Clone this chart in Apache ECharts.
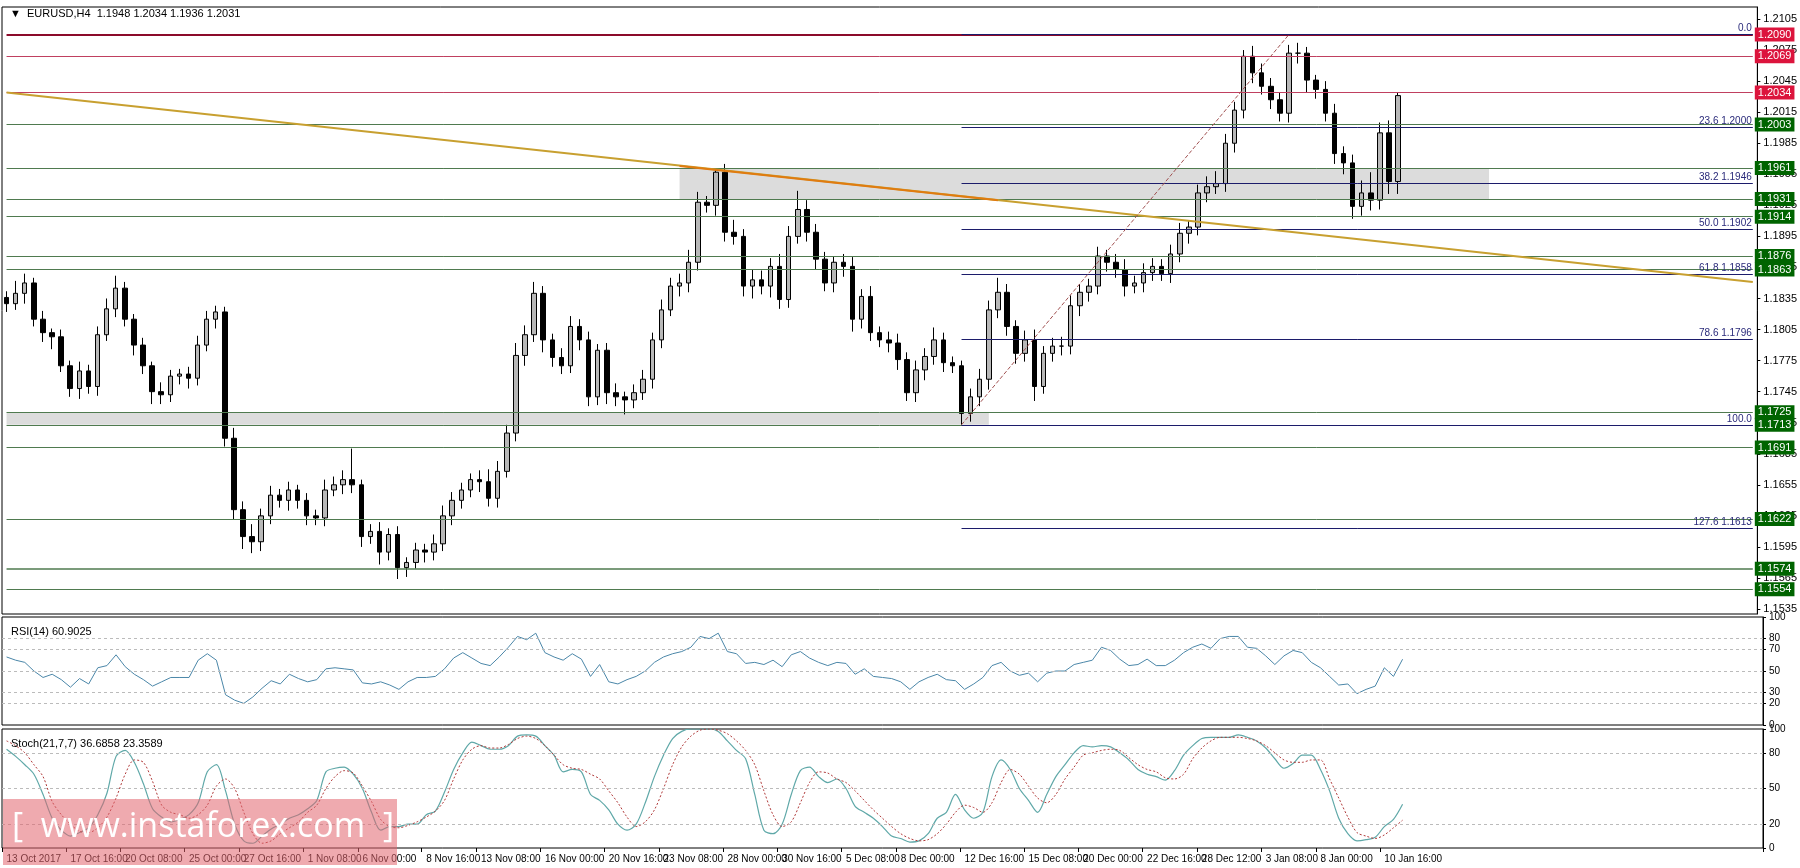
<!DOCTYPE html>
<html>
<head>
<meta charset="utf-8">
<script src="https://cdn.jsdelivr.net/npm/echarts@6/dist/echarts.min.js"></script>
<style>
  html, body { margin: 0; padding: 0; background: #fff; }
  #main { width: 1800px; height: 868px; }
</style>
</head>
<body>
<div id="main"></div>
<script>
// EURUSD H4 closes
const closes = [
  1.1830,1.1840,1.1850,1.1815,1.1802,1.1798,1.1770,1.1748,1.1765,1.1750,
  1.1800,1.1825,1.1845,1.1815,1.1790,1.1770,1.1745,1.1742,1.1760,1.1762,
  1.1758,1.1790,1.1815,1.1822,1.1700,1.1631,1.1605,1.1600,1.1625,1.1645,
  1.1640,1.1650,1.1640,1.1625,1.1623,1.1650,1.1655,1.1660,1.1655,1.1605,
  1.1610,1.1590,1.1607,1.1575,1.1580,1.1592,1.1590,1.1598,1.1625,1.1640,
  1.1650,1.1660,1.1658,1.1642,1.1668,1.1705,1.1780,1.1800,1.1840,1.1795,
  1.1778,1.1770,1.1808,1.1795,1.1740,1.1785,1.1744,1.1740,1.1737,1.1744,
  1.1757,1.1795,1.1824,1.1847,1.1850,1.1870,1.1928,1.1925,1.1957,1.1899,
  1.1895,1.1847,1.1853,1.1847,1.1866,1.1834,1.1895,1.1921,1.1899,1.1873,
  1.1850,1.1870,1.1866,1.1815,1.1837,1.1802,1.1795,1.1792,1.1776,1.1744,
  1.1766,1.1779,1.1795,1.1773,1.1770,1.1724,1.1740,1.1757,1.1824,1.1841,
  1.1808,1.1782,1.1795,1.1750,1.1782,1.1789,1.1789,1.1828,1.1841,1.1847,
  1.1876,1.1870,1.1863,1.1847,1.1850,1.1860,1.1866,1.1859,1.1878,1.1898,
  1.1904,1.1937,1.1943,1.1946,1.1985,1.2017,1.2069,1.2053,1.2040,1.2027,
  1.2014,1.2072,1.2072,1.2046,1.2037,1.2014,1.1975,1.1966,1.1924,1.1937,
  1.1930,1.1995,1.1948,1.2031
];
const firstOpen = 1.1836;
// upper / lower wick lengths in pips
const upWick = [
  6,12,9,5,8,4,7,5,9,6, 8,10,12,6,5,7,4,9,6,5, 7,9,8,6,5,10,8,12,7,9,
  6,8,5,7,6,10,8,9,30,5, 7,9,6,8,5,7,6,9,10,8, 7,6,9,12,10,8,12,9,11,7,
  6,9,10,7,8,6,7,9,5,8, 9,7,10,8,9,12,10,6,4,8, 12,7,10,9,8,12,10,18,9,8,
  7,6,8,9,7,10,6,8,9,7, 9,8,12,7,6,5,8,10,9,14, 8,6,9,10,7,8,9,10,8,7,
  9,6,8,10,7,9,8,7,9,10, 6,8,10,12,9,8,6,10,9,8, 7,8,10,6,5,8,9,7,8,12,
  20,10,12,3
];
const dnWick = [
  8,6,10,7,9,12,6,8,10,7, 9,6,8,7,10,8,12,9,7,8, 10,7,6,9,8,10,12,11,9,8,
  7,10,8,9,7,8,6,9,8,10, 7,12,8,11,9,6,10,8,7,9, 8,7,10,8,9,6,8,10,7,12,
  9,8,7,10,9,8,11,9,14,8, 7,9,8,6,10,9,8,7,10,9, 8,10,12,8,11,9,8,7,9,10,
  8,9,10,12,9,8,7,9,10,8, 9,10,8,9,7,11,8,9,10,8, 9,10,8,14,7,8,9,8,10,9,
  8,9,8,10,7,9,8,7,9,8, 10,8,9,7,8,9,8,10,8,9, 8,9,10,12,9,8,10,11,12,9,
  10,9,12,12
];
const rsi = [
  63,60,58,50,44,47,42,35,43,38, 53,55,65,54,47,42,36,40,44,44,
  44,60,66,60,28,23,20,26,34,41, 38,47,43,40,42,52,53,52,51,39,
  38,40,37,33,40,44,44,45,52,62, 67,62,57,55,63,72,82,79,85,67,
  63,60,66,61,45,56,40,38,42,45, 50,58,63,66,68,72,82,80,85,68,
  66,57,58,56,60,54,65,68,62,58, 55,58,57,47,52,45,44,43,40,33,
  40,44,47,42,41,33,38,44,55,58, 50,46,48,40,48,50,50,56,58,60,
  72,69,61,55,56,61,55,55,60,67, 72,75,71,80,82,82,72,71,64,56,
  64,69,67,58,53,45,37,38,29,33, 36,53,45,60.9025
];
const stochK = [
  83,77,70,62,45,25,15,10,13,17, 28,46,77,82,72,54,33,26,22,24,
  28,38,64,70,48,20,6,4,10,16, 20,25,28,33,40,64,67,68,62,50,
  30,15,18,18,20,20,28,31,47,66, 80,89,86,83,83,86,94,95,94,86,
  78,64,66,64,45,40,32,20,15,20, 38,60,78,92,98,100,100,100,98,90,
  82,75,45,15,12,20,45,65,68,60, 55,58,50,35,30,25,18,10,8,5,
  6,12,25,30,45,32,25,30,60,74, 66,50,40,30,45,60,70,80,86,85,
  86,85,80,74,66,62,60,57,65,78, 86,92,93,93,93,95,93,90,84,75,
  67,71,78,78,66,48,25,12,6,7, 9,18,24,36.6858
];
const stochD = [
  90,86,80,70,60,39,28,20,14,13, 17,26,42,62,74,72,56,36,30,28,
  25,28,36,52,58,50,30,12,4,6, 12,17,22,30,36,50,60,65,63,52,
  39,24,18,17,19,22,26,31,40,58, 74,83,86,84,84,87,92,94,92,86,
  78,70,67,66,62,58,48,38,26,18, 22,32,50,70,85,94,99,100,99,96,
  90,82,70,48,28,18,22,38,55,64, 63,58,55,48,40,32,25,18,12,8,
  6,7,12,20,30,36,34,30,38,55, 66,62,52,42,38,45,58,68,78,80,
  82,83,82,76,70,66,64,59,58,62, 75,84,90,93,93,93,92,90,86,80,
  74,72,72,74,74,58,42,26,13,10, 8,11,17,23.3589
];
const slotCount = 193;
const dateLabels = ['13 Oct 2017','17 Oct 16:00','20 Oct 08:00','25 Oct 00:00','27 Oct 16:00','1 Nov 08:00',
  '6 Nov 00:00','8 Nov 16:00','13 Nov 08:00','16 Nov 00:00','20 Nov 16:00','23 Nov 08:00','28 Nov 00:00',
  '30 Nov 16:00','5 Dec 08:00','8 Dec 00:00','12 Dec 16:00','15 Dec 08:00','20 Dec 00:00','22 Dec 16:00',
  '28 Dec 12:00','3 Jan 08:00','8 Jan 00:00','10 Jan 16:00'];
const dateSlots = [0,7,13,20,26,33,39,46,52,59,66,72,79,85,92,98,105,112,118,125,131,138,144,151];
const priceTicks = [];
for (let v = 1.1535; v < 1.2110; v += 0.003) priceTicks.push(+v.toFixed(4));
const redLevels = [1.2090, 1.2069, 1.2034];
const greenLevels = [1.2003, 1.1961, 1.1931, 1.1914, 1.1876, 1.1863, 1.1725, 1.1713, 1.1691, 1.1622, 1.1574, 1.1554];
const fibLevels = [['0.0', 1.2090], ['23.6 1.2000', 1.2000], ['38.2 1.1946', 1.1946], ['50.0 1.1902', 1.1902],
  ['61.8 1.1858', 1.1858], ['78.6 1.1796', 1.1796], ['100.0', 1.1713], ['127.6 1.1613', 1.1613]];

const cats = [];
for (let i = 0; i < slotCount; i++) cats.push('');
dateSlots.forEach((s, k) => { cats[s] = dateLabels[k]; });

const ohlc = closes.map((c, i) => {
  const o = i === 0 ? firstOpen : closes[i - 1];
  const h = Math.max(o, c) + upWick[i] / 10000;
  const l = Math.min(o, c) - dnWick[i] / 10000;
  return [o, c, l, h];
});

const font = '"Liberation Sans", Arial, sans-serif';
const last = slotCount - 1;
const tagLabel = (txt, bg, fs) => ({ show: true, position: 'end', distance: 2, formatter: txt, color: '#fff',
  backgroundColor: bg, padding: [2, 3, 1, 3], fontSize: fs || 11, fontFamily: font });
const hLine = (v, style, label) => [
  { coord: [0, v], lineStyle: style, label: label },
  { coord: [last, v] }
];
const lineMarks = [];
// current-price tag first so the level tags draw over it
lineMarks.push(hLine(1.2031, { opacity: 0 }, tagLabel('1.2031', '#000', 9)));
redLevels.forEach((v, k) => lineMarks.push(hLine(v,
  { color: k === 0 ? '#8b0a2a' : '#c04060', width: k === 0 ? 2 : 1, type: 'solid' },
  tagLabel(v.toFixed(4), '#dc143c'))));
greenLevels.forEach(v => lineMarks.push(hLine(v,
  { color: '#4f7a4f', width: v === 1.1574 ? 1.5 : 1, type: 'solid' },
  tagLabel(v.toFixed(4), '#006400'))));
fibLevels.forEach(([t, v]) => lineMarks.push([
  { coord: [105, v], lineStyle: { color: '#1c1c6b', width: 1, type: 'solid' },
    label: { show: true, position: 'insideEndTop', formatter: t, color: '#2a2a7a', fontSize: 10, fontFamily: font, distance: 1 } },
  { coord: [last, v] }
]));
// trend line and fib diagonal
lineMarks.push([{ coord: [0, 1.2034], lineStyle: { color: '#c8a030', width: 2, type: 'solid' }, label: { show: false } },
  { coord: [last, 1.1851] }]);
lineMarks.push([{ coord: [74, 1.1963], lineStyle: { color: '#e07b10', width: 2, type: 'solid' }, label: { show: false } },
  { coord: [109, 1.1930] }]);
lineMarks.push([{ coord: [105, 1.1713], lineStyle: { color: '#a05050', width: 1, type: 'dashed' }, label: { show: false } },
  { coord: [141, 1.2090] }]);

const chart = echarts.init(document.getElementById('main'));
const xBase = (gi, showLabels) => ({
  type: 'category', gridIndex: gi, data: cats, boundaryGap: true,
  axisLine: { show: false },
  axisTick: { show: showLabels, interval: (i, v) => v !== '', length: 4, lineStyle: { color: '#000' } },
  axisLabel: { show: showLabels, interval: (i, v) => v !== '', showMinLabel: true, hideOverlap: false,
    align: 'left', color: '#000', fontSize: 10, fontFamily: font, margin: 6 },
  splitLine: { show: false }
});
const yLab = { color: '#000', fontSize: 11, fontFamily: font, margin: 6 };
const dashes = vals => ({ silent: true, symbol: 'none', label: { show: false },
  lineStyle: { color: '#bbb', type: [3, 3], width: 1 }, data: vals.map(v => ({ yAxis: v })) });

chart.setOption({
  animation: false,
  title: [
    { text: '▼  EURUSD,H4  1.1948 1.2034 1.1936 1.2031', left: 5, top: 3, textStyle: { fontSize: 11, fontWeight: 'normal', fontFamily: font, color: '#000' } },
    { text: 'RSI(14) 60.9025', left: 6, top: 621, textStyle: { fontSize: 11, fontWeight: 'normal', fontFamily: font, color: '#000' } },
    { text: 'Stoch(21,7,7) 36.6858 23.3589', left: 6, top: 733, textStyle: { fontSize: 11, fontWeight: 'normal', fontFamily: font, color: '#000' } }
  ],
  grid: [
    { left: 2, right: 37, top: 7, height: 607, show: true, borderColor: '#000', borderWidth: 1 },
    { left: 2, right: 37, top: 617, height: 108, show: true, borderColor: '#000', borderWidth: 1 },
    { left: 2, right: 37, top: 729, height: 119, show: true, borderColor: '#000', borderWidth: 1 }
  ],
  xAxis: [xBase(0, false), xBase(1, false), xBase(2, true)],
  yAxis: [
    { type: 'value', gridIndex: 0, position: 'right', min: 1.15302, max: 1.21166, splitLine: { show: false },
      axisLine: { show: true, lineStyle: { color: '#000' } },
      axisTick: { show: true, customValues: priceTicks, length: 3, lineStyle: { color: '#000' } },
      axisLabel: Object.assign({ customValues: priceTicks, formatter: v => v.toFixed(4) }, yLab) },
    { type: 'value', gridIndex: 1, position: 'right', min: 0, max: 100, splitLine: { show: false },
      axisLine: { show: true, lineStyle: { color: '#000' } },
      axisTick: { show: true, customValues: [0, 20, 30, 50, 70, 80, 100], length: 3 },
      axisLabel: Object.assign({}, yLab, { customValues: [0, 20, 30, 50, 70, 80, 100], fontSize: 10 }) },
    { type: 'value', gridIndex: 2, position: 'right', min: 0, max: 100, splitLine: { show: false },
      axisLine: { show: true, lineStyle: { color: '#000' } },
      axisTick: { show: true, customValues: [0, 20, 50, 80, 100], length: 3 },
      axisLabel: Object.assign({}, yLab, { customValues: [0, 20, 50, 80, 100], fontSize: 10 }) }
  ],
  graphic: [
    { type: 'rect', left: 3, top: 799, shape: { width: 394, height: 66 }, style: { fill: 'rgba(225,100,110,0.55)' }, z: 100 },
    { type: 'text', left: 12, top: 810, style: { text: '[  www.instaforex.com  ]', fill: '#fff', font: '34px "Open Sans", sans-serif' }, z: 101 }
  ],
  series: [
    { type: 'candlestick', xAxisIndex: 0, yAxisIndex: 0, data: ohlc, barWidth: 5,
      itemStyle: { color: '#b8b8b8', color0: '#000', borderColor: '#000', borderColor0: '#000', borderWidth: 1 },
      markArea: { silent: true, itemStyle: { color: '#dcdcdc' }, data: [
        [{ coord: [74, 1.1961] }, { coord: [163, 1.1931] }],
        [{ coord: [0, 1.1725] }, { coord: [108, 1.1713] }]
      ] },
      markLine: { silent: true, symbol: 'none', animation: false, data: lineMarks }
    },
    { type: 'line', xAxisIndex: 1, yAxisIndex: 1, data: rsi, symbol: 'none',
      lineStyle: { color: '#4a86a8', width: 1 }, markLine: dashes([20, 30, 50, 70, 80]) },
    { type: 'line', xAxisIndex: 2, yAxisIndex: 2, data: stochK, symbol: 'none', smooth: 0.3,
      lineStyle: { color: '#5fa8a8', width: 1.2 }, markLine: dashes([20, 50, 80]) },
    { type: 'line', xAxisIndex: 2, yAxisIndex: 2, data: stochD, symbol: 'none', smooth: 0.3,
      lineStyle: { color: '#b03a3a', width: 1, type: [2, 2] } }
  ]
});
</script>
</body>
</html>
